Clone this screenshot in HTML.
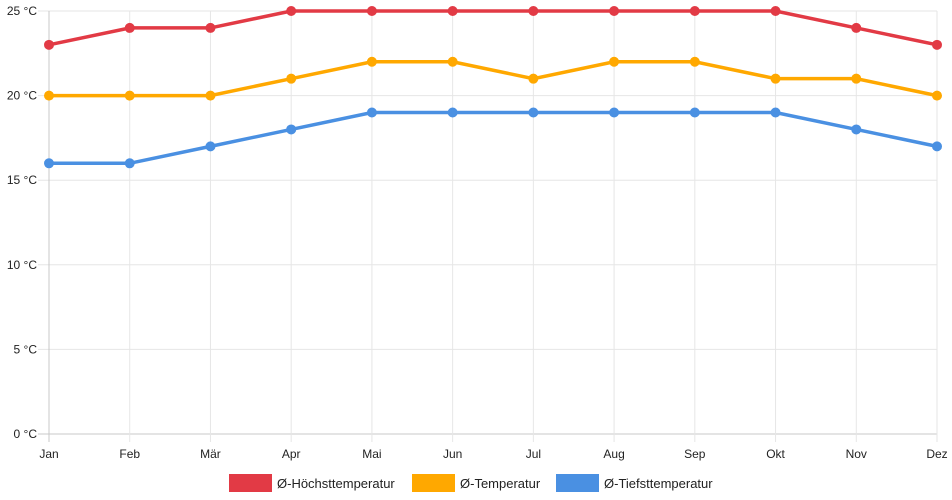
<!DOCTYPE html>
<html><head><meta charset="utf-8"><style>
body{margin:0;background:#fff;font-family:"Liberation Sans",sans-serif}
svg{display:block}
</style></head><body>
<svg id="c" width="952" height="500"></svg>
<script>
const months=["Jan","Feb","Mär","Apr","Mai","Jun","Jul","Aug","Sep","Okt","Nov","Dez"];
const highs=[23,24,24,25,25,25,25,25,25,25,24,23];
const avgs=[20,20,20,21,22,22,21,22,22,21,21,20];
const lows=[16,16,17,18,19,19,19,19,19,19,18,17];
const yTicks=[0,5,10,15,20,25];
const seriesNames=["Ø-Höchsttemperatur","Ø-Temperatur","Ø-Tiefsttemperatur"];
const colors=["#e23a45","#ffa800","#4a90e2"];
const svg=document.getElementById('c');const NS="http://www.w3.org/2000/svg";
const X0=49,X1=937,Y0=434,Y1=11,YMAX=25;
const x=i=>X0+(X1-X0)*i/(months.length-1);
const y=v=>Y0-(Y0-Y1)*v/YMAX;
function mk(t,a,p){const e=document.createElementNS(NS,t);for(const k in a)e.setAttribute(k,a[k]);(p||svg).appendChild(e);return e;}
yTicks.forEach(t=>{
 const l=mk('line',{x1:38,x2:X1,y1:y(t),y2:y(t),stroke:t===0?'#c8c8c8':'#e6e6e6'});
 
 const tx=mk('text',{x:37,y:y(t)+4,'text-anchor':'end','font-size':12,fill:'#222'});tx.textContent=t+' °C';
 
});
months.forEach((m,i)=>{
 const l=mk('line',{x1:x(i),x2:x(i),y1:Y1,y2:Y0+8,stroke:i===0?'#c8c8c8':'#e6e6e6'});
 
 const tx=mk('text',{x:x(i),y:458,'text-anchor':'middle','font-size':12,fill:'#222'});tx.textContent=m;
 
});
[lows,avgs,highs].forEach((d,k)=>{
 const ci=2-k;
 const g=mk('g',{});
 
 mk('polyline',{points:d.map((v,i)=>x(i)+','+y(v)).join(' '),fill:'none',stroke:colors[ci],'stroke-width':3.5},g);
 d.forEach((v,i)=>{const c=mk('circle',{cx:x(i),cy:y(v),r:5,fill:colors[ci]},g);
  });
});
const lx=[229,412,556];
seriesNames.forEach((n,i)=>{
 const g=mk('g',{});
 mk('rect',{x:lx[i],y:474,width:43,height:18,fill:colors[i]},g);
 const t=mk('text',{x:lx[i]+48,y:488,'font-size':13,fill:'#222'},g);t.textContent=n;
});
</script>
</body></html>
